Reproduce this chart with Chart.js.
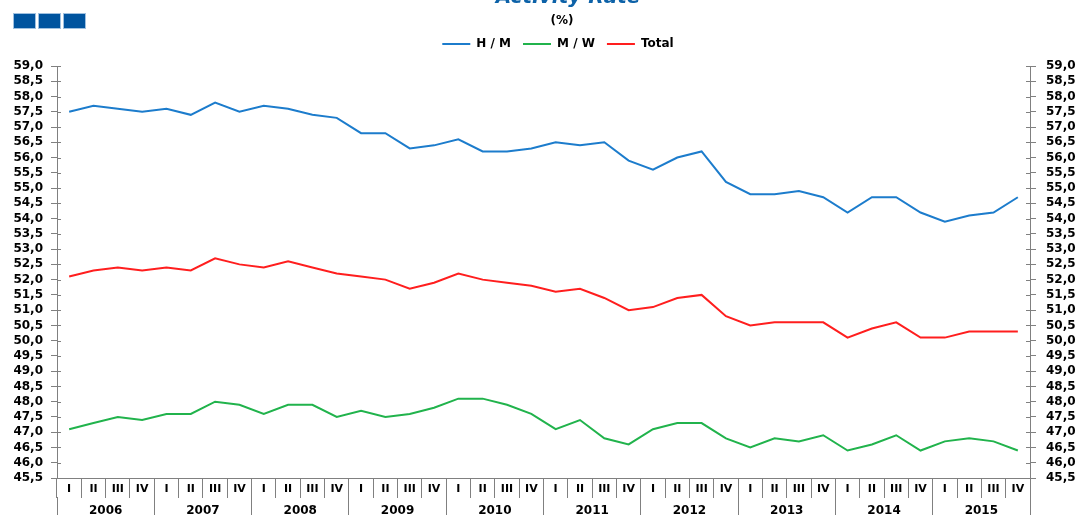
<!DOCTYPE html>
<html>
<head>
<meta charset="utf-8">
<script src="https://cdn.jsdelivr.net/npm/chart.js@4.4.0/dist/chart.umd.min.js"></script>
<style>
    html, body { margin: 0; padding: 0; background: #fff; overflow: hidden; }
    #wrap { position: relative; width: 1076px; height: 515px; }
    #titulo { position: absolute; left: 468px; width: 200px; top: -14px; text-align: center;
              font: italic bold 20px 'DejaVu Sans'; line-height: 20px; color: #0d62a8; white-space: nowrap; }
    #subtitulo { position: absolute; left: 512px; width: 100px; top: 13px; text-align: center;
                 font: bold 12px 'DejaVu Sans'; line-height: 14px; color: #000; }
    .quadrado { position: absolute; top: 13px; width: 23px; height: 16px; background: #00549f;
                box-shadow: 0 0 0 1px #9fc0e0 inset; }
    canvas { position: absolute; left: 0; top: 0; }
</style>
</head>
<body>
<div id="wrap">
    <div class="quadrado" style="left:13px"></div>
    <div class="quadrado" style="left:38px"></div>
    <div class="quadrado" style="left:63px"></div>
    <canvas id="grafico" width="1076" height="515"></canvas>
    <div id="titulo">Activity Rate</div>
    <div id="subtitulo">(%)</div>
</div>
<script>
// Categorias: anos e trimestres
const anos = ['2006', '2007', '2008', '2009', '2010', '2011', '2012', '2013', '2014', '2015'];
const trimestres = ['I', 'II', 'III', 'IV'];

// Taxa de actividade (%) por trimestre, 2006-I a 2015-IV
const homens = [
    57.5, 57.7, 57.6, 57.5,
    57.6, 57.4, 57.8, 57.5,
    57.7, 57.6, 57.4, 57.3,
    56.8, 56.8, 56.3, 56.4,
    56.6, 56.2, 56.2, 56.3,
    56.5, 56.4, 56.5, 55.9,
    55.6, 56.0, 56.2, 55.2,
    54.8, 54.8, 54.9, 54.7,
    54.2, 54.7, 54.7, 54.2,
    53.9, 54.1, 54.2, 54.7
];
const mulheres = [
    47.1, 47.3, 47.5, 47.4,
    47.6, 47.6, 48.0, 47.9,
    47.6, 47.9, 47.9, 47.5,
    47.7, 47.5, 47.6, 47.8,
    48.1, 48.1, 47.9, 47.6,
    47.1, 47.4, 46.8, 46.6,
    47.1, 47.3, 47.3, 46.8,
    46.5, 46.8, 46.7, 46.9,
    46.4, 46.6, 46.9, 46.4,
    46.7, 46.8, 46.7, 46.4
];
const total = [
    52.1, 52.3, 52.4, 52.3,
    52.4, 52.3, 52.7, 52.5,
    52.4, 52.6, 52.4, 52.2,
    52.1, 52.0, 51.7, 51.9,
    52.2, 52.0, 51.9, 51.8,
    51.6, 51.7, 51.4, 51.0,
    51.1, 51.4, 51.5, 50.8,
    50.5, 50.6, 50.6, 50.6,
    50.1, 50.4, 50.6, 50.1,
    50.1, 50.3, 50.3, 50.3
];

// Limites e passo do eixo Y
const yMin = 45.5;
const yMax = 59.0;
const yPasso = 0.5;

const corEixo = '#808080';

Chart.defaults.font.family = "'DejaVu Sans', sans-serif";

// Rótulos do eixo X: um por trimestre
const rotulos = anos.flatMap(() => trimestres);

// Formata os valores com vírgula decimal
function formatar(v) {
    return v.toFixed(1).replace('.', ',');
}

// Sobe a legenda uns pixels para deixar mais espaço até ao gráfico
const subirLegenda = {
    id: 'subirLegenda',
    afterLayout(chart) {
        chart.legend.top -= 6;
        chart.legend.bottom -= 6;
    }
};

// Desenha a parte das marcas do eixo Y que entra na área do gráfico
const marcasInternas = {
    id: 'marcasInternas',
    afterDraw(chart) {
        const ctx = chart.ctx;
        ctx.save();
        ctx.strokeStyle = corEixo;
        ctx.lineWidth = 1;
        ['y', 'y2'].forEach(id => {
            const eixo = chart.scales[id];
            const x0 = id === 'y' ? eixo.right : eixo.left;
            const dir = id === 'y' ? 1 : -1;
            eixo.ticks.forEach((t, i) => {
                const py = Math.round(eixo.getPixelForTick(i)) + 0.5;
                ctx.beginPath();
                ctx.moveTo(x0, py);
                ctx.lineTo(x0 + dir * 4, py);
                ctx.stroke();
            });
        });
        ctx.restore();
    }
};

function eixoY(posicao, largura, espaco) {
    return {
        type: 'linear',
        position: posicao,
        min: yMin,
        max: yMax,
        grid: { drawOnChartArea: false, drawTicks: true, tickLength: 6, color: corEixo },
        border: { display: true, color: corEixo },
        ticks: {
            stepSize: yPasso,
            autoSkip: false,
            maxTicksLimit: 100,
            color: '#000',
            padding: espaco,
            font: { size: 12, weight: 'bold' },
            callback: v => formatar(v)
        },
        afterFit: s => { s.width = largura; }
    };
}

function linha(nome, dados, cor) {
    return {
        label: nome,
        data: dados,
        borderColor: cor,
        backgroundColor: cor,
        borderWidth: 2,
        pointRadius: 0,
        pointHoverRadius: 0,
        tension: 0,
        fill: false,
        xAxisID: 'x',
        yAxisID: 'y'
    };
}

const ctx = document.getElementById('grafico').getContext('2d');
new Chart(ctx, {
    type: 'line',
    data: {
        labels: rotulos,
        datasets: [
            linha('H / M', homens, '#1c7ccc'),
            linha('M / W', mulheres, '#21b34c'),
            linha('Total', total, '#ff1e1e')
        ]
    },
    options: {
        responsive: false,
        animation: false,
        // a legenda fica centrada um pouco à direita do centro da imagem
        layout: { padding: { left: 0, right: -40, top: 32, bottom: 0 } },
        plugins: {
            legend: {
                position: 'top',
                labels: {
                    usePointStyle: true,
                    pointStyle: 'line',
                    pointStyleWidth: 28,
                    padding: 12,
                    color: '#000',
                    font: { size: 12, weight: 'bold' }
                }
            },
            tooltip: { enabled: false }
        },
        scales: {
            x: {
                type: 'category',
                position: 'bottom',
                weight: 0,
                offset: true,
                grid: { offset: true, drawOnChartArea: false, drawTicks: true, tickLength: 20, color: corEixo },
                border: { display: true, color: corEixo },
                ticks: { color: '#000', padding: -15, maxRotation: 0, autoSkip: false, font: { size: 11, weight: 'bold' } },
                afterFit: s => { s.height = 19; }
            },
            x2: {
                type: 'category',
                position: 'bottom',
                weight: 1,
                labels: anos,
                offset: true,
                grid: { offset: true, drawOnChartArea: false, drawTicks: true, tickLength: 22, color: corEixo },
                border: { display: false },
                ticks: { color: '#000', padding: -15, maxRotation: 0, autoSkip: false, font: { size: 12, weight: 'bold' } },
                afterFit: s => { s.height = 18; }
            },
            y: eixoY('left', 57, 8),
            y2: eixoY('right', 86, 10)
        }
    },
    plugins: [subirLegenda, marcasInternas]
});
</script>
</body>
</html>
